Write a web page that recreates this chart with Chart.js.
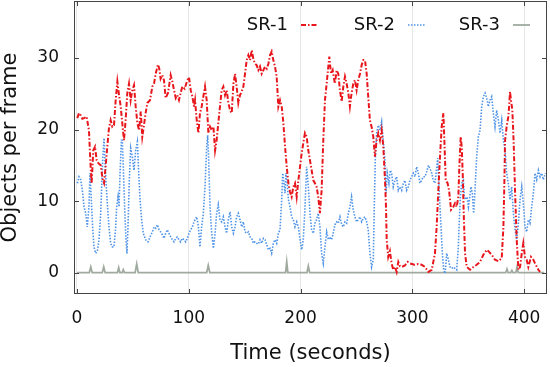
<!DOCTYPE html>
<html>
<head>
<meta charset="utf-8">
<script src="https://cdn.jsdelivr.net/npm/chart.js@4"></script>
<style>
  body { margin: 0; background: #fff; }
  canvas { display: block; }
</style>
</head>
<body>
<canvas id="chart" width="550" height="367"></canvas>
<script>
// tick labels
const xTicks = [0, 100, 200, 300, 400];
const yTicks = [0, 10, 20, 30];

// SR-1 (red, dash-dot)
const sr1Time = [0.3,1.8,3.3,4.8,6.3,8.6,10.7,12.2,13.1,14.6,16.1,17.6,19.1,21.2,23.0,24.2,25.6,27.1,28.6,30.1,31.6,33.1,34.6,36.1,37.6,39.1,40.5,42.0,43.5,45.0,46.5,48.0,49.5,51.0,52.5,54.0,55.5,57.0,58.4,59.9,61.4,62.9,65.3,67.4,68.9,70.4,72.4,73.6,74.8,76.3,77.8,79.3,81.4,83.8,85.3,86.8,88.3,89.7,91.2,92.7,94.2,96.3,98.7,100.2,101.7,103.2,104.7,
  105.6,107.1,108.6,110.0,111.5,113.0,114.5,116.0,117.5,119.0,120.5,122.0,123.5,124.9,126.4,127.9,129.4,130.9,132.4,133.9,135.4,136.9,138.4,139.9,141.4,142.8,144.3,145.8,147.3,148.8,150.3,151.8,153.3,154.8,156.3,157.7,159.2,160.7,162.2,163.7,165.2,166.7,168.2,169.7,171.2,172.7,174.1,175.6,177.1,178.6,180.1,181.6,183.1,184.6,186.1,187.6,189.1,190.5,192.0,193.5,195.0,196.5,198.0,199.5,201.0,202.4,203.9,
  205.4,206.9,208.4,209.9,211.4,212.8,214.3,215.8,217.3,218.8,220.3,221.8,223.3,224.8,225.7,227.2,228.7,230.7,232.2,233.7,235.2,236.7,238.2,239.7,241.2,242.7,244.1,245.6,247.1,248.6,250.1,251.6,253.1,254.6,256.1,257.6,259.1,260.5,262.0,263.5,265.0,266.5,268.0,269.5,271.0,272.5,274.0,275.5,276.4,277.0,278.4,279.9,281.4,282.9,284.4,285.9,287.4,288.9,290.4,293.3,295.8,297.8,301.8,305.0,308.3,
  311.3,314.3,317.3,320.2,321.7,323.2,324.7,326.2,327.7,328.6,329.8,331.5,332.8,334.6,336.6,338.1,339.6,341.1,342.0,343.2,344.1,345.0,345.9,347.1,348.6,351.6,354.6,357.5,360.5,363.5,366.5,368.0,370.9,373.9,376.9,379.9,381.4,382.3,382.9,384.3,385.8,386.5,387.3,388.2,389.4,390.6,391.8,393.3,394.8,396.3,397.8,399.2,400.7,402.2,403.7,406.1,408.2,409.7,412.7,414.2];
const sr1Value = [21.6,22.3,22.0,21.5,21.6,21.8,19.9,14.8,12.5,17.1,17.6,15.7,15.3,15.0,13.0,12.5,14.8,17.6,20.2,21.3,20.4,20.6,24.1,26.7,24.8,23.2,20.9,18.5,21.3,25.1,26.4,24.1,25.5,26.2,23.2,20.9,19.9,22.5,19.0,20.6,22.3,23.7,24.1,26.0,26.4,27.8,29.1,28.5,27.1,27.6,26.9,24.4,25.1,27.6,26.7,25.5,24.4,24.8,24.1,25.1,26.0,25.7,26.9,27.3,25.5,24.6,23.2,
  24.1,21.3,19.5,22.3,23.2,24.6,26.0,24.1,19.5,20.4,19.9,20.4,17.1,18.5,20.9,23.2,25.5,26.0,24.8,25.5,23.7,22.7,22.3,26.4,27.8,26.0,23.7,24.8,25.3,26.0,27.8,29.7,30.4,29.7,31.1,29.9,29.2,29.0,28.3,28.8,27.8,28.3,28.8,28.5,29.2,30.4,30.9,29.7,28.8,27.4,23.2,24.1,23.2,20.9,17.6,14.8,12.5,11.3,10.6,12.0,12.5,10.6,12.9,14.8,16.7,18.1,19.5,
  19.0,17.1,15.7,14.3,12.9,12.5,12.0,10.6,8.3,11.5,18.5,24.1,26.4,28.8,30.2,27.8,28.3,26.4,28.3,27.8,25.5,23.9,26.0,27.4,26.4,25.1,23.2,25.1,26.4,26.9,25.5,26.9,27.8,29.0,29.7,29.7,27.8,24.6,21.3,20.4,19.0,16.2,18.5,19.5,18.5,19.9,17.6,12.9,9.2,4.6,2.2,3.0,1.3,0.4,0.8,0.1,1.5,0.9,0.8,1.0,1.5,1.3,1.1,1.2,1.1,
  0.8,0.1,0.4,2.7,6.4,11.5,16.2,20.4,22.3,18.5,12.9,12.5,11.5,8.8,9.2,9.7,9.2,10.6,14.8,19.0,17.6,13.9,8.3,2.7,0.8,0.4,0.8,1.1,1.5,2.5,3.2,3.0,2.5,1.8,1.6,2.0,6.4,12.9,18.5,20.4,21.8,23.2,25.3,24.1,22.7,18.1,11.5,4.6,0.4,0.8,2.7,4.1,2.2,1.8,0.8,2.2,1.8,1.3,0.4,0.1];

// SR-2 (blue, dotted)
const sr2Time = [0.3,1.8,3.3,4.8,6.3,7.8,9.2,10.7,11.6,12.8,14.0,15.2,16.7,18.2,19.7,21.2,22.1,23.0,24.2,25.0,25.9,27.1,28.6,30.1,31.6,33.1,34.6,35.5,36.7,37.6,38.5,39.7,40.5,41.4,42.6,43.8,44.7,45.6,46.8,48.0,49.5,51.0,52.5,54.0,55.2,56.4,57.8,59.3,61.4,63.5,65.3,67.4,68.9,70.4,71.9,73.4,74.8,76.3,77.8,79.3,80.8,82.3,83.8,85.3,86.8,88.3,89.7,91.2,92.7,94.2,95.7,97.2,98.7,100.2,101.7,103.2,104.7,
  105.6,107.1,108.6,110.0,111.5,113.0,114.5,116.0,116.9,117.8,119.0,120.5,122.0,123.5,124.9,126.4,127.9,129.4,130.9,132.4,133.9,135.4,136.9,138.4,139.9,141.4,142.8,144.3,145.8,147.3,148.8,150.3,151.8,153.3,154.8,156.3,157.7,159.2,160.7,162.2,163.7,165.2,166.7,168.2,169.7,171.2,172.7,174.1,175.6,177.1,178.6,180.1,181.6,183.1,184.0,185.1,186.1,186.9,188.0,189.1,190.5,192.0,193.5,195.0,196.5,198.0,199.5,201.0,202.4,
  203.9,205.4,206.9,208.4,209.9,211.4,212.8,214.3,215.8,217.3,218.8,220.3,221.8,223.3,224.8,226.2,227.7,229.2,230.7,232.2,233.7,235.2,236.7,238.2,239.7,241.2,242.7,244.1,245.6,247.1,248.6,250.1,251.6,253.1,254.6,256.1,257.6,259.1,260.5,262.0,263.5,265.0,265.9,266.8,268.0,269.5,271.0,272.5,273.9,275.4,276.4,277.5,279.0,280.2,281.4,282.9,284.4,285.9,287.4,288.9,290.4,291.9,293.3,294.8,296.3,297.8,299.3,300.8,302.3,303.8,305.3,306.8,308.2,309.7,
  311.3,312.8,314.3,315.8,317.3,318.7,320.2,321.2,322.6,323.6,324.7,325.6,326.8,328.0,329.2,330.7,332.2,333.7,335.2,336.7,338.1,339.6,341.1,342.0,342.9,344.1,345.6,346.5,347.7,348.9,350.1,351.3,352.4,353.6,354.8,356.0,357.5,359.0,360.5,362.0,363.5,365.0,366.5,367.9,369.4,370.9,372.4,373.9,375.4,376.9,378.4,379.9,381.4,382.9,384.3,385.8,387.3,388.8,390.3,391.8,393.3,394.8,396.3,397.8,398.7,399.9,400.7,402.2,403.7,405.2,406.7,408.2,409.7,411.2,412.7,414.2,415.6,417.1,419.0];
const sr2Value = [12.5,13.4,13.0,11.5,9.2,8.3,6.4,9.2,13.9,10.2,6.4,3.6,2.7,3.0,4.6,8.3,12.0,15.7,18.8,15.7,12.9,9.7,6.4,4.1,3.6,3.6,6.4,9.2,10.6,9.2,13.9,18.5,18.5,14.8,9.2,4.6,2.7,6.4,12.9,17.4,16.2,14.3,17.1,18.3,13.9,10.2,7.4,5.5,4.6,4.3,5.0,5.7,6.4,6.2,6.7,6.0,5.7,5.3,4.8,5.5,6.0,5.5,5.0,4.6,4.3,4.8,5.0,4.6,4.3,4.8,4.6,4.3,4.8,5.5,6.0,6.4,7.1,
  7.4,7.8,6.4,3.6,6.4,8.3,12.0,17.6,19.2,15.7,9.2,5.5,3.4,5.5,8.3,9.5,7.4,7.1,7.8,6.4,5.5,7.4,8.5,6.4,5.5,6.4,7.8,8.3,7.4,6.4,7.1,5.7,5.5,5.7,5.0,4.8,4.1,4.3,4.1,4.0,4.6,4.1,4.8,4.6,3.9,3.2,3.4,2.7,4.1,4.6,4.1,5.5,6.0,10.2,13.9,12.5,11.1,13.9,12.5,10.2,9.2,7.8,7.4,6.4,7.1,6.4,4.6,3.2,4.6,
  9.0,14.8,12.0,8.3,6.0,5.5,6.9,7.4,8.3,6.4,2.7,1.3,3.6,5.7,4.6,5.0,4.6,5.5,6.7,7.1,6.9,7.8,6.7,6.4,7.1,6.9,8.3,9.2,10.6,8.8,7.8,7.1,7.4,7.8,7.1,7.6,7.8,7.1,6.0,2.7,0.8,1.8,9.2,15.7,19.5,20.6,19.9,21.1,18.5,15.7,11.1,13.9,12.5,14.3,13.9,12.0,12.9,13.4,11.5,12.0,11.5,12.5,12.9,11.5,12.0,12.9,13.4,13.9,13.4,14.8,13.9,12.5,12.9,13.4,
  13.4,14.1,15.0,14.5,13.9,12.9,12.5,13.9,16.0,12.5,9.2,6.4,2.7,0.4,-0.1,2.7,1.8,0.8,0.6,0.8,0.6,0.4,3.6,7.4,10.6,12.5,12.9,10.6,10.2,10.6,9.2,10.6,12.0,11.1,8.3,11.5,16.2,19.0,19.9,23.2,24.6,25.1,24.4,23.2,24.1,24.6,22.3,20.4,22.7,21.3,19.5,21.3,18.5,17.1,13.9,12.5,10.2,12.0,8.3,6.0,4.6,6.9,10.2,12.0,10.6,8.3,6.4,5.7,7.4,6.9,9.2,11.1,13.9,13.0,14.3,13.4,13.9,13.0,13.9];

// SR-3 (grey, solid)
const sr3Time = [0,11,12.3,13.6,22.6,23.9,25.2,36.2,37.3,38.4,40.4,41.4,42.4,52,53.4,54.8,116,117.4,118.8,186.6,187.6,188.6,205.7,206.9,208.1,383.5,384.6,385.6,388,389,390,392.5,393.6,394.6,418];
const sr3Value = [0,0,0.8,0,0,0.8,0,0,0.7,0,0,0.4,0,0,1.2,0,0,1.0,0,0,1.5,0,0,0.9,0,0,0.5,0,0,0.3,0,0,0.8,0,0];

const toPoints = (ts, vs) => ts.map((t, i) => ({ x: t, y: vs[i] }));

const FONT = 'DejaVu Sans';

const series = [
  { label: 'SR-1', t: sr1Time, v: sr1Value, color: 'rgb(232,22,28)', width: 2, dash: [5, 2, 1.5, 2] },
  { label: 'SR-2', t: sr2Time, v: sr2Value, color: 'rgb(80,148,232)', width: 1.6, dash: [1.5, 1.5] },
  { label: 'SR-3', t: sr3Time, v: sr3Value, color: 'rgb(160,170,160)', width: 1.8, dash: [] },
];

// frame with inward ticks on all four sides, plus the gnuplot-style legend
const framePlugin = {
  id: 'frame',
  afterDatasetsDraw(chart) {
    const { ctx, chartArea: a, scales } = chart;
    ctx.save();
    ctx.strokeStyle = '#444';
    ctx.lineWidth = 1;
    ctx.strokeRect(a.left + 0.5, a.top + 0.5, a.right - a.left - 1, a.bottom - a.top - 1);
    ctx.beginPath();
    xTicks.forEach(v => {
      const x = Math.round(scales.x.getPixelForValue(v)) + 0.5;
      ctx.moveTo(x, a.bottom); ctx.lineTo(x, a.bottom - 5);
      ctx.moveTo(x, a.top); ctx.lineTo(x, a.top + 5);
    });
    yTicks.forEach(v => {
      const y = Math.round(scales.y.getPixelForValue(v)) + 0.5;
      ctx.moveTo(a.left, y); ctx.lineTo(a.left + 5, y);
      ctx.moveTo(a.right, y); ctx.lineTo(a.right - 5, y);
    });
    ctx.stroke();

    // legend: right-aligned label, line sample to its right
    const legendEnds = [288, 395, 500];
    ctx.font = '18px "' + FONT + '"';
    ctx.textAlign = 'right';
    ctx.textBaseline = 'middle';
    series.forEach((s, i) => {
      const tx = legendEnds[i];
      const y = 25;
      ctx.fillStyle = '#111';
      ctx.fillText(s.label, tx, y);
      ctx.beginPath();
      ctx.strokeStyle = s.color;
      ctx.lineWidth = s.width;
      ctx.setLineDash(s.dash);
      ctx.moveTo(tx + 13, y);
      ctx.lineTo(tx + 30, y);
      ctx.stroke();
      ctx.setLineDash([]);
    });
    ctx.restore();
  }
};

const noPad = s => { s.paddingTop = 0; s.paddingBottom = 0; s.paddingLeft = 0; s.paddingRight = 0; };

new Chart(document.getElementById('chart'), {
  type: 'line',
  data: {
    datasets: series.map((s, i) => ({
      label: s.label,
      data: toPoints(s.t, s.v),
      borderColor: s.color,
      borderWidth: s.width,
      borderDash: s.dash,
      pointRadius: 0,
      tension: 0,
      fill: false,
      order: i,
    })),
  },
  options: {
    responsive: false,
    animation: false,
    layout: { padding: { top: 1, right: 3, left: 0, bottom: 0 } },
    plugins: { legend: { display: false }, tooltip: { enabled: false } },
    scales: {
      x: {
        type: 'linear',
        min: -2.68,
        max: 420.4,
        afterBuildTicks: s => { s.ticks = xTicks.map(v => ({ value: v })); },
        afterFit: s => { s.height = 73; noPad(s); },
        grid: { color: '#e6e6e6', lineWidth: 1, drawTicks: false },
        border: { display: false },
        ticks: { font: { family: FONT, size: 17 }, color: '#111', padding: 14, maxRotation: 0 },
        title: {
          display: true, text: 'Time (seconds)', color: '#111',
          font: { family: FONT, size: 21 }, padding: { top: 0, bottom: 1 },
        },
      },
      y: {
        min: -2.98,
        max: 37.96,
        afterBuildTicks: s => { s.ticks = yTicks.map(v => ({ value: v })); },
        afterFit: s => { s.width = 74; noPad(s); },
        grid: { drawOnChartArea: false, drawTicks: false },
        border: { display: false },
        ticks: { font: { family: FONT, size: 17 }, color: '#111', padding: 15 },
        title: {
          display: true, text: 'Objects per frame', color: '#111',
          font: { family: FONT, size: 21, lineHeight: 1.05 }, padding: { top: 0, bottom: 0 },
        },
      },
    },
  },
  plugins: [framePlugin],
});
</script>
</body>
</html>
